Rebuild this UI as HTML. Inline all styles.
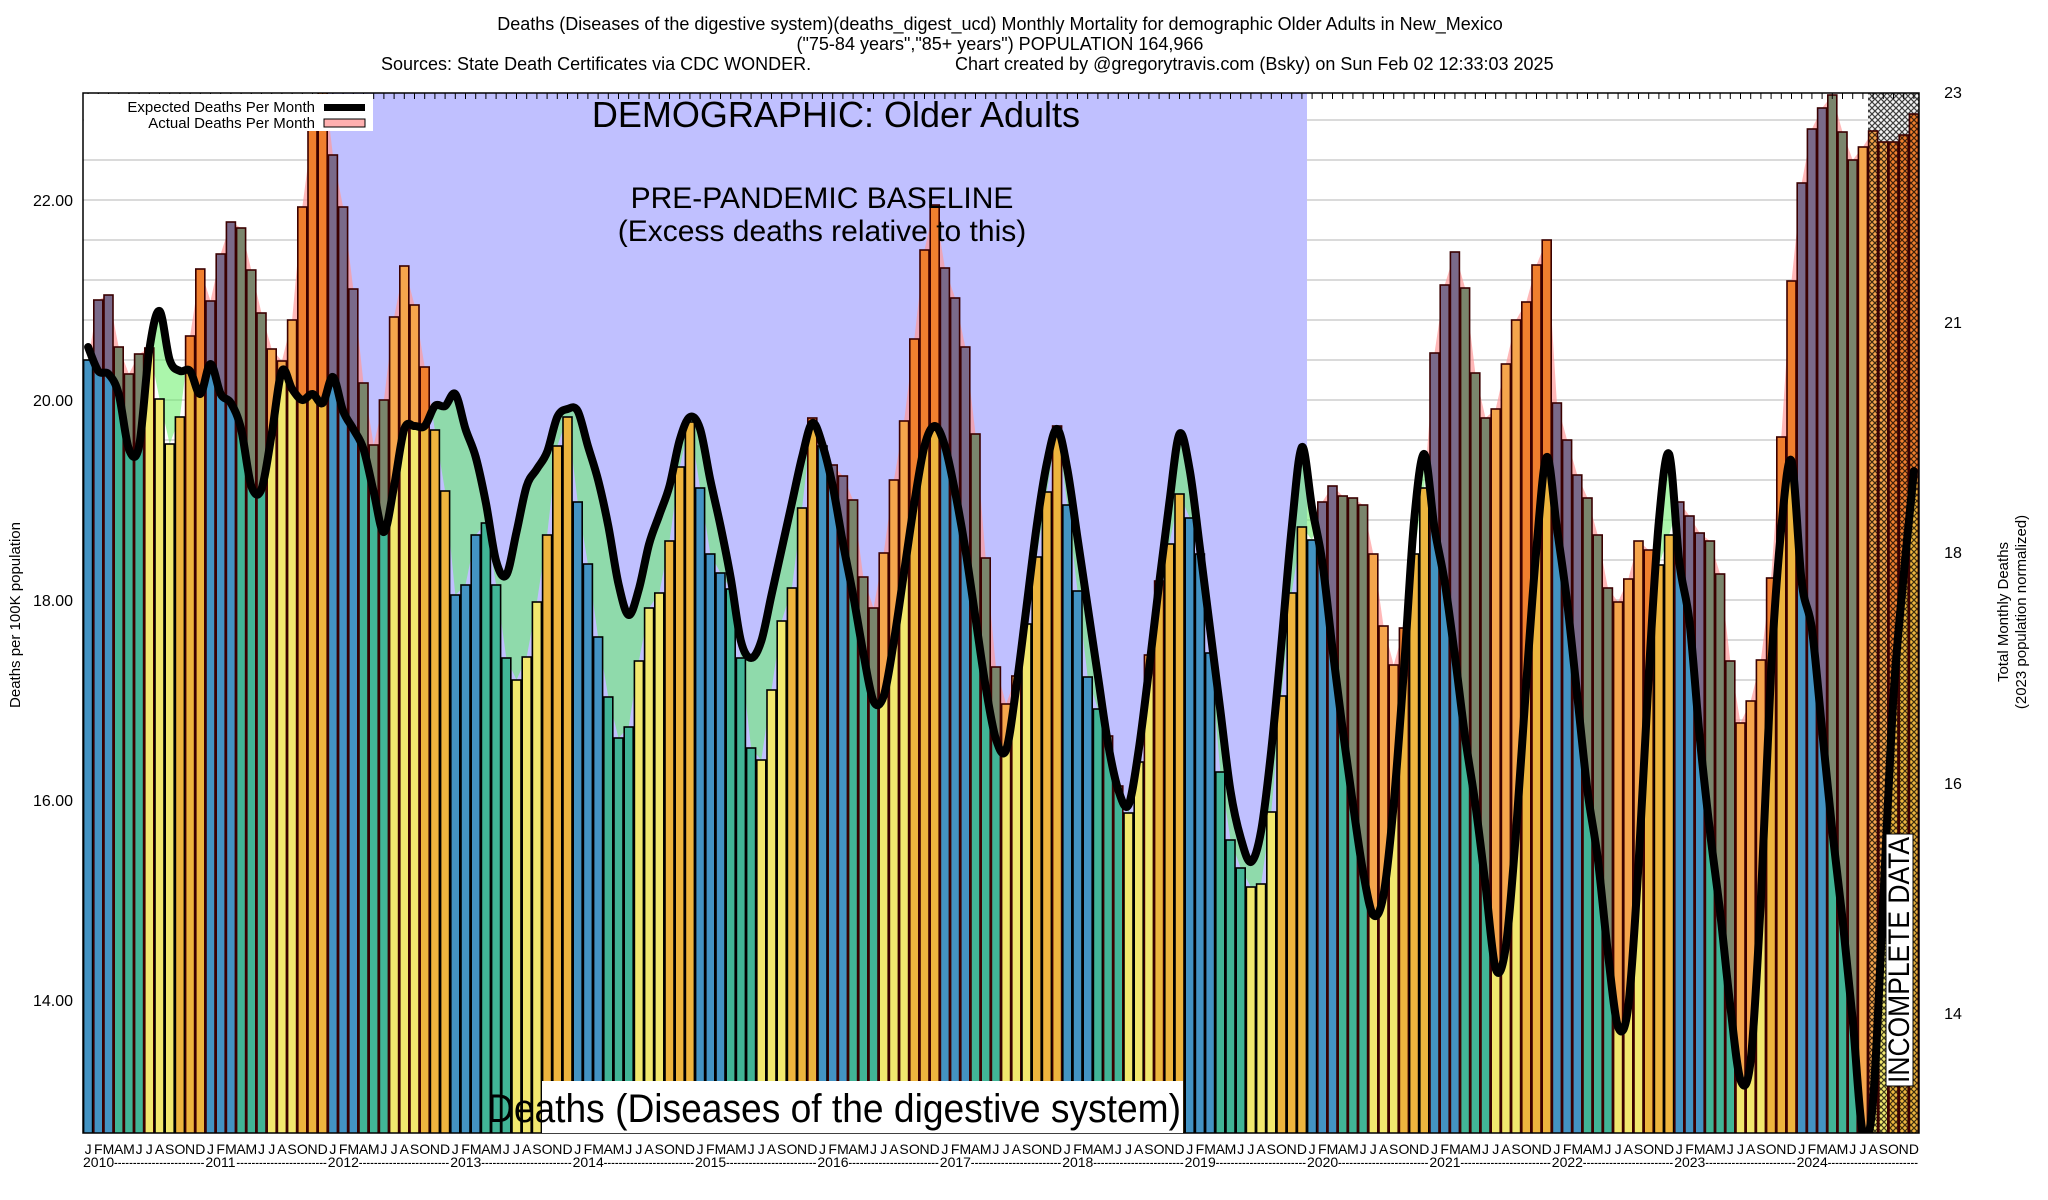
<!DOCTYPE html>
<html><head><meta charset="utf-8"><title>Deaths (Diseases of the digestive system) Older Adults New Mexico</title>
<style>
html,body{margin:0;padding:0;background:#fff;}
svg{display:block;font-family:"Liberation Sans",Arial,sans-serif;}
</style></head>
<body>
<svg id="chart" width="2048" height="1200" viewBox="0 0 2048 1200" xmlns="http://www.w3.org/2000/svg">
<defs>
  <clipPath id="plotClip"><rect x="83" y="93" width="1836" height="1040"/></clipPath>
  <pattern id="hatch" patternUnits="userSpaceOnUse" width="6" height="6">
    <path d="M0,0 L6,6 M6,0 L0,6" stroke="#000" stroke-width="1.2" opacity="0.75"/>
  </pattern>
</defs>
<text x="1000" y="30" font-size="18" text-anchor="middle">Deaths (Diseases of the digestive system)(deaths_digest_ucd) Monthly Mortality for demographic Older Adults in New_Mexico</text>
<text x="1000" y="50" font-size="18" text-anchor="middle">("75-84 years","85+ years") POPULATION 164,966</text>
<text x="381" y="70" font-size="18">Sources: State Death Certificates via CDC WONDER.</text>
<text x="955" y="70" font-size="18">Chart created by @gregorytravis.com (Bsky) on Sun Feb 02 12:33:03 2025</text>
<g id="plot" clip-path="url(#plotClip)"></g>
<g id="overlay"></g>
<rect x="83" y="93" width="1836" height="1040" fill="none" stroke="#000" stroke-width="1.5"/>
<g id="axes"></g>
<text transform="translate(20,615) rotate(-90)" font-size="15" text-anchor="middle">Deaths per 100K population</text>
<text transform="translate(2008,612) rotate(-90)" font-size="15" text-anchor="middle">Total Monthly Deaths</text>
<text transform="translate(2026,612) rotate(-90)" font-size="15" text-anchor="middle">(2023 population normalized)</text>
<g>
  <rect x="84" y="94" width="289" height="37" fill="#fff"/>
  <text x="315" y="112" font-size="15" text-anchor="end">Expected Deaths Per Month</text>
  <rect x="324" y="104" width="41" height="7" fill="#000"/>
  <text x="315" y="128" font-size="15" text-anchor="end">Actual Deaths Per Month</text>
  <rect x="324" y="119" width="41" height="8" fill="#ffb0b0" stroke="#000" stroke-width="1"/>
</g>
<text x="836" y="127" font-size="36" text-anchor="middle">DEMOGRAPHIC: Older Adults</text>
<text x="822" y="208" font-size="30" text-anchor="middle">PRE-PANDEMIC BASELINE</text>
<text x="822" y="241" font-size="30" text-anchor="middle">(Excess deaths relative to this)</text>
<rect x="542" y="1081" width="641" height="52" fill="#fff"/>
<text x="487" y="1122" font-size="40" textLength="694" lengthAdjust="spacingAndGlyphs">Deaths (Diseases of the digestive system)</text>
<rect x="1886" y="834" width="27" height="252" fill="#fff" stroke="#000" stroke-width="1"/>
<text transform="translate(1909,1083) rotate(-90)" font-size="30" textLength="246" lengthAdjust="spacingAndGlyphs">INCOMPLETE DATA</text>
<script>
const startYear = 2010;
const monthLetters = ["J","F","M","A","M","J","J","A","S","O","N","D"];
const leftTicks = [22, 20, 18, 16, 14];
const rightTickLabels = ["23", "21", "18", "16", "14"];
const rightTickValues = [23, 21, 18, 16, 14];
const actualDeaths = [
20.40,21.00,21.05,20.53,20.26,20.46,20.52,20.01,19.56,19.83,20.64,21.31,
20.99,21.46,21.78,21.72,21.30,20.87,20.51,20.39,20.80,21.93,22.70,23.30,
22.45,21.93,21.11,20.17,19.55,20.00,20.83,21.34,20.95,20.33,19.70,19.09,
18.05,18.15,18.65,18.77,18.15,17.42,17.20,17.43,17.98,18.65,19.54,19.83,
18.98,18.36,17.63,17.03,16.62,16.73,17.39,17.92,18.07,18.59,19.33,19.78,
19.12,18.46,18.27,18.11,17.42,16.52,16.40,17.10,17.79,18.12,18.92,19.82,
19.54,19.35,19.24,19.00,18.23,17.92,18.47,19.20,19.79,20.61,21.50,21.95,
21.32,21.02,20.53,19.66,18.42,17.33,16.96,17.24,17.76,18.43,19.08,19.74,
18.95,18.09,17.23,16.91,16.64,16.14,15.87,16.38,17.45,18.19,18.56,19.06,
18.82,18.46,17.47,16.28,15.60,15.32,15.13,15.16,15.88,17.04,18.07,18.73,
18.60,18.98,19.14,19.04,19.02,18.95,18.46,17.74,17.35,17.72,18.46,19.12,
20.47,21.15,21.48,21.12,20.27,19.82,19.91,20.36,20.80,20.98,21.35,21.60,
19.97,19.60,19.25,19.02,18.65,18.12,17.98,18.21,18.59,18.50,18.35,18.65,
18.98,18.84,18.67,18.59,18.26,17.39,16.77,16.99,17.40,18.22,19.63,21.19,
22.17,22.71,22.92,23.05,22.68,22.40,22.53,22.69,22.58,22.58,22.65,22.86
];
const expectedDeaths = [
20.53,20.29,20.26,20.06,19.51,19.54,20.50,20.89,20.40,20.29,20.29,20.06,
20.36,20.06,19.97,19.71,19.14,19.11,19.66,20.29,20.11,20.00,20.06,19.97,
20.23,19.89,19.71,19.51,19.08,18.68,19.14,19.71,19.74,19.74,19.94,19.94,
20.06,19.71,19.43,18.97,18.39,18.25,18.68,19.14,19.31,19.48,19.83,19.91,
19.89,19.54,19.20,18.74,18.16,17.85,18.11,18.56,18.85,19.14,19.60,19.83,
19.71,19.20,18.74,18.22,17.59,17.42,17.59,18.05,18.51,18.97,19.43,19.77,
19.55,19.14,18.57,18.05,17.47,16.99,17.04,17.59,18.28,18.97,19.54,19.74,
19.54,19.08,18.51,17.82,17.13,16.61,16.50,17.13,17.93,18.74,19.37,19.71,
19.31,18.62,17.93,17.24,16.56,16.10,15.95,16.50,17.30,18.16,18.97,19.66,
19.30,18.52,17.71,16.90,16.09,15.62,15.38,15.69,16.50,17.57,18.72,19.53,
18.92,18.38,17.51,16.70,15.96,15.28,14.85,15.05,15.96,17.30,18.79,19.46,
18.72,18.18,17.44,16.63,15.96,15.15,14.31,14.54,15.69,17.17,18.52,19.43,
18.72,17.98,17.04,16.09,15.42,14.47,13.73,13.94,15.35,17.24,18.79,19.46,
18.38,17.78,16.63,15.69,14.88,13.94,13.20,13.40,15.01,17.30,18.72,19.39,
18.18,17.71,16.70,15.69,14.81,13.80,12.66,13.00,15.01,17.04,18.25,19.29
];
const baselineStartMonth = 24;
const baselineEndMonth = 120;
const incompleteStartMonth = 175;

const NS = "http://www.w3.org/2000/svg";
const PL = 83, PR = 1919, PT = 93, PB = 1133;
const nMonths = actualDeaths.length;
const slot = (PR - PL) / nMonths;
function xL(m){ return PL + slot * m; }
function xC(m){ return PL + slot * (m + 0.5); }
function yV(v){ return 1000 - (v - 14) * 100; }
function mk(tag, attrs, parent){
  const e = document.createElementNS(NS, tag);
  for (const k in attrs) e.setAttribute(k, attrs[k]);
  parent.appendChild(e);
  return e;
}
const plot = document.getElementById("plot");
const axes = document.getElementById("axes");

for (let v = 12.8; v <= 23.0; v += 0.4) {
  const g = mk("line", {x1: PL, x2: PR, y1: yV(v), y2: yV(v), stroke: "#c4c4c4", "stroke-width": 1.2}, plot);
  
  
}
const base = mk("rect", {x: xL(baselineStartMonth), y: PT, width: xL(baselineEndMonth) - xL(baselineStartMonth), height: PB - PT, fill: "#c0c0ff"}, plot);



function linePts(arr){ return arr.map((v,i) => xC(i).toFixed(1) + "," + yV(v).toFixed(1)); }
const aPts = linePts(actualDeaths), ePts = linePts(expectedDeaths);
const x0 = xC(0).toFixed(1), x1 = xC(nMonths-1).toFixed(1);
const defs = document.querySelector("defs");
const clipAboveE = mk("clipPath", {id: "aboveE"}, defs);
mk("polygon", {points: PL + ",0 " + ePts.join(" ") + " " + PR + ",0"}, clipAboveE);
const clipAboveA = mk("clipPath", {id: "aboveA"}, defs);
mk("polygon", {points: PL + ",0 " + aPts.join(" ") + " " + PR + ",0"}, clipAboveA);
const pink = mk("polygon", {points: x0 + "," + PB + " " + aPts.join(" ") + " " + x1 + "," + PB, fill: "#ff9a9a", "fill-opacity": 0.7, "clip-path": "url(#aboveE)"}, plot);


const green = mk("polygon", {points: x0 + "," + PB + " " + ePts.join(" ") + " " + x1 + "," + PB, fill: "#66ee66", "fill-opacity": 0.55, "clip-path": "url(#aboveA)"}, plot);



const hb = mk("rect", {x: xL(incompleteStartMonth), y: PT, width: PR - xL(incompleteStartMonth), height: PB - PT, fill: "#f4f4f4"}, plot);


const hh = mk("rect", {x: xL(incompleteStartMonth), y: PT, width: PR - xL(incompleteStartMonth), height: PB - PT, fill: "url(#hatch)"}, plot);



const baseCol = ["#4393c3","#41b496","#f2e86e","#edb53e"];
const excCol = ["#7a6a8a","#7a856c","#f5a54c","#f07f2e"];
for (let i = 0; i < nMonths; i++) {
  const a = actualDeaths[i], e = expectedDeaths[i];
  const q = Math.floor((i % 12) / 3);
  const x = xL(i) + 0.6, w = slot - 1.2;
  const low = Math.min(a, e);
  const b1 = mk("rect", {x: x, y: yV(low), width: w, height: PB + 5 - yV(low), fill: baseCol[q]}, plot);
  
  
  if (a > e) {
    const b2 = mk("rect", {x: x, y: yV(a), width: w, height: yV(e) - yV(a), fill: excCol[q]}, plot);
    
    
  }
  if (i >= incompleteStartMonth) {
    const h = mk("rect", {x: x, y: yV(a), width: w, height: PB + 5 - yV(a), fill: "url(#hatch)"}, plot);
    
    
  }
  const o = mk("rect", {x: x, y: yV(a), width: w, height: PB + 5 - yV(a), fill: "none", stroke: a > e ? "#3a0000" : "#000", "stroke-width": 1.6}, plot);
  
  
}

let d = "M" + xC(0) + "," + yV(expectedDeaths[0]);
for (let i = 0; i < nMonths - 1; i++) {
  const p0 = [xC(Math.max(i-1,0)), yV(expectedDeaths[Math.max(i-1,0)])];
  const p1 = [xC(i), yV(expectedDeaths[i])];
  const p2 = [xC(i+1), yV(expectedDeaths[i+1])];
  const p3 = [xC(Math.min(i+2,nMonths-1)), yV(expectedDeaths[Math.min(i+2,nMonths-1)])];
  const c1 = [p1[0] + (p2[0]-p0[0])/6, p1[1] + (p2[1]-p0[1])/6];
  const c2 = [p2[0] - (p3[0]-p1[0])/6, p2[1] - (p3[1]-p1[1])/6];
  d += " C" + c1[0].toFixed(1) + "," + c1[1].toFixed(1) + " " + c2[0].toFixed(1) + "," + c2[1].toFixed(1) + " " + p2[0].toFixed(1) + "," + p2[1].toFixed(1);
}
const el = mk("path", {d: d, fill: "none", stroke: "#000", "stroke-width": 8, "stroke-linejoin": "round", "stroke-linecap": "round"}, plot);



for (let i = 0; i < nMonths; i++) {
  const t = mk("line", {x1: xC(i), x2: xC(i), y1: PT, y2: PT + 6, stroke: "#000", "stroke-width": 1}, axes);
  
  
}
leftTicks.forEach(v => {
  const t = mk("text", {x: 73, y: yV(v) + 6, "font-size": 16, "text-anchor": "end"}, axes);
  t.textContent = v.toFixed(2);
  
  
});
const rightTickY = [92, 322, 552, 783, 1013];
rightTickLabels.forEach((s, k) => {
  const t = mk("text", {x: 1953, y: rightTickY[k] + 6, "font-size": 16, "text-anchor": "middle"}, axes);
  t.textContent = s;
  
  
});
for (let i = 0; i < nMonths; i++) {
  const t = mk("text", {x: xC(i), y: 1154, "font-size": 14, "text-anchor": "middle"}, axes);
  t.textContent = monthLetters[i % 12];
  
  
}
for (let y = 0; y < nMonths / 12; y++) {
  const t = mk("text", {x: xL(y*12), y: 1167, "font-size": 14}, axes);
  t.textContent = String(startYear + y);
  
  
  const w = 12 * slot - 32;
  const dsh = mk("text", {x: xL(y*12) + 31, y: 1167, "font-size": 14, textLength: w, lengthAdjust: "spacingAndGlyphs"}, axes);
  dsh.textContent = "------------------------";
  
  
}
</script>
</svg>
</body></html>
